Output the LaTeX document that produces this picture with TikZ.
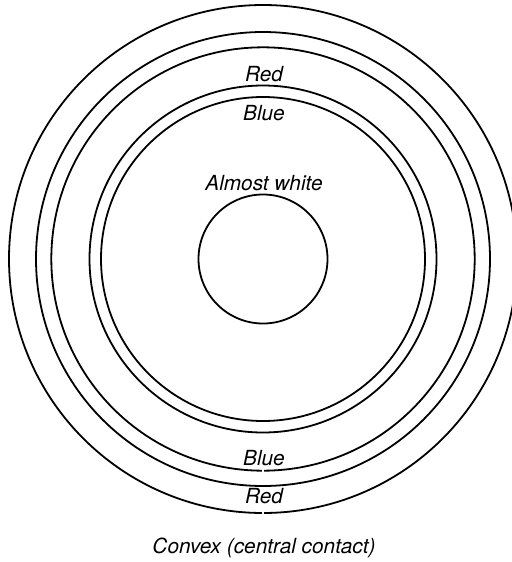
\documentclass[tikz,border=0pt]{standalone}
\usepackage{fontspec}
\setmainfont{TeX Gyre Heros}
\begin{document}
\begin{tikzpicture}[x=0.5pt,y=-0.5pt,
  ring/.style={draw=black,line width=0.9pt},
  lbl/.style={font=\fontsize{10.4}{12}\selectfont\itshape,anchor=base,inner sep=0pt}]
\useasboundingbox (0,0) rectangle (512,562);
\clip (0,0) rectangle (512,562);
\coordinate (c) at (263,259);
% rings
\draw[ring] ([shift={(-89.75:127pt)}]c) arc[start angle=-89.75, end angle=269.75, radius=127pt];
\draw[ring] (c) circle[radius=113.5pt];
\draw[ring] ([shift={(-89.7:105.85pt)}]c) arc[start angle=-89.7, end angle=269.7, radius=105.85pt];
\draw[ring] (c) circle[radius=86.75pt];
\draw[ring] (c) circle[radius=81pt];
\draw[ring] (c) circle[radius=32.25pt];
% labels
\node[lbl] (redtop) at (264,81.7) {Red};
\node[lbl] (bluetop) at (264,120) {Blue};
\node[lbl] (almost) at (264,190.7) {Almost white};
\node[lbl] (bluebot) at (264,465) {Blue};
\node[lbl] (redbot) at (264,503) {Red};
\node[lbl] (caption) at (264,553) {Convex (central contact)};
\end{tikzpicture}
\end{document}
